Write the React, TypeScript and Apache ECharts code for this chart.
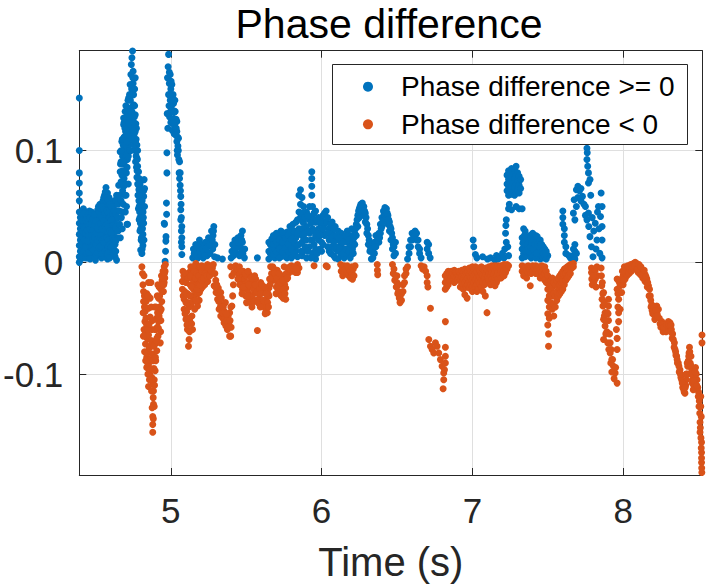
import React, { useEffect, useRef } from "react";
import * as echarts from "echarts";

type Pt = [number, number];

const xTicks = [5, 6, 7, 8];
const yTicks = [-0.1, 0, 0.1];
const xLimits = [4.393, 8.525];
const yLimits = [-0.1902, 0.1893];
const titleText = "Phase difference";
const xLabelText = "Time (s)";
const seriesNames = ["Phase difference >= 0", "Phase difference < 0"];

// ---------- Phase difference >= 0 ----------
const blueBand: Pt[] = [
  [4.393,0.147],[4.393,0.100],[4.393,0.080],[4.393,0.071],[4.393,0.062],[4.393,0.055],[4.393,0.045],[4.393,0.035],[4.393,0.025],[4.393,0.015],[4.393,0.005],[4.393,0.000],
  [4.400,0.040],[4.400,0.030],[4.400,0.020],[4.400,0.010],[4.400,0.003],
  [4.410,0.045],[4.410,0.032],[4.410,0.022],[4.410,0.012],
  [4.420,0.048],[4.420,0.036],[4.420,0.026],[4.420,0.015],[4.420,0.006],
  [4.430,0.042],[4.430,0.030],[4.430,0.020],[4.430,0.010],
  [4.440,0.045],[4.440,0.035],[4.440,0.025],[4.440,0.017],
  [4.450,0.040],[4.450,0.030],[4.450,0.022],[4.450,0.013],[4.450,0.004],
  [4.460,0.046],[4.460,0.034],[4.460,0.026],[4.460,0.018],
  [4.470,0.038],[4.470,0.028],[4.470,0.020],[4.470,0.010],
  [4.480,0.042],[4.480,0.032],[4.480,0.024],[4.480,0.016],[4.480,0.005],
  [4.490,0.036],[4.490,0.026],[4.490,0.018],[4.490,0.008],
  [4.500,0.040],[4.500,0.030],[4.500,0.020],[4.500,0.012],[4.500,0.002],
  [4.510,0.044],[4.510,0.034],[4.510,0.024],[4.510,0.014],
  [4.520,0.050],[4.520,0.038],[4.520,0.028],[4.520,0.018],[4.520,0.006],
  [4.530,0.052],[4.530,0.040],[4.530,0.030],[4.530,0.020],[4.530,0.010],
  [4.540,0.046],[4.540,0.036],[4.540,0.026],[4.540,0.016],[4.540,0.004],
  [4.550,0.055],[4.550,0.042],[4.550,0.032],[4.550,0.022],[4.550,0.012],
  [4.560,0.060],[4.560,0.048],[4.560,0.036],[4.560,0.026],[4.560,0.015],[4.560,0.005],
  [4.570,0.067],[4.570,0.052],[4.570,0.040],[4.570,0.028],[4.570,0.018],
  [4.580,0.062],[4.580,0.050],[4.580,0.038],[4.580,0.026],[4.580,0.014],[4.580,0.003],
  [4.590,0.058],[4.590,0.046],[4.590,0.034],[4.590,0.022],[4.590,0.010],
  [4.600,0.055],[4.600,0.044],[4.600,0.032],[4.600,0.020],[4.600,0.008],
  [4.610,0.050],[4.610,0.040],[4.610,0.030],[4.610,0.018],[4.610,0.006],
  [4.620,0.048],[4.620,0.036],[4.620,0.024],[4.620,0.012],
  [4.630,0.052],[4.630,0.040],[4.630,0.028],[4.630,0.016],[4.630,0.005],
  [4.640,0.060],[4.640,0.046],[4.640,0.034],[4.640,0.022],[4.640,0.002],
];

const blueBandFill: Pt[] = [
  [4.405,0.043],[4.405,0.027],[4.405,0.016],[4.405,0.006],[4.415,0.038],[4.415,0.028],[4.415,0.018],[4.415,0.004],
  [4.425,0.044],[4.425,0.031],[4.425,0.020],[4.425,0.010],[4.435,0.038],[4.435,0.026],[4.435,0.014],[4.435,0.004],
  [4.445,0.040],[4.445,0.029],[4.445,0.019],[4.445,0.008],[4.455,0.043],[4.455,0.033],[4.455,0.024],[4.455,0.009],
  [4.465,0.040],[4.465,0.030],[4.465,0.014],[4.465,0.003],[4.475,0.045],[4.475,0.034],[4.475,0.024],[4.475,0.013],
  [4.485,0.039],[4.485,0.029],[4.485,0.020],[4.485,0.011],[4.495,0.043],[4.495,0.033],[4.495,0.022],[4.495,0.004],
  [4.505,0.037],[4.505,0.026],[4.505,0.016],[4.505,0.007],[4.515,0.047],[4.515,0.030],[4.515,0.020],[4.515,0.009],
  [4.525,0.045],[4.525,0.034],[4.525,0.023],[4.525,0.013],[4.535,0.048],[4.535,0.035],[4.535,0.024],[4.535,0.014],
  [4.545,0.050],[4.545,0.040],[4.545,0.030],[4.545,0.020],[4.545,0.008],[4.555,0.058],[4.555,0.047],[4.555,0.037],
  [4.555,0.018],[4.565,0.063],[4.565,0.044],[4.565,0.032],[4.565,0.022],[4.565,0.010],[4.575,0.058],[4.575,0.046],
  [4.575,0.034],[4.575,0.022],[4.575,0.008],[4.585,0.056],[4.585,0.044],[4.585,0.032],[4.585,0.020],[4.585,0.008],
  [4.595,0.052],[4.595,0.040],[4.595,0.028],[4.595,0.016],[4.595,0.004],[4.605,0.050],[4.605,0.038],[4.605,0.026],
  [4.605,0.014],[4.615,0.044],[4.615,0.033],[4.615,0.021],[4.615,0.009],[4.625,0.046],[4.625,0.032],[4.625,0.020],
  [4.625,0.008],[4.635,0.056],[4.635,0.044],[4.635,0.031],[4.635,0.019],[4.635,0.010],
];

const bluePeak1: Pt[] = [
  [4.650,0.052],[4.650,0.040],[4.650,0.028],[4.654,0.069],[4.660,0.060],[4.660,0.046],[4.660,0.034],[4.664,0.081],[4.664,0.099],
  [4.665,0.022],[4.670,0.090],[4.670,0.072],[4.670,0.055],[4.672,0.040],[4.675,0.108],[4.678,0.030],[4.680,0.095],[4.680,0.082],
  [4.680,0.064],[4.680,0.045],[4.685,0.052],[4.687,0.123],[4.687,0.129],[4.690,0.112],[4.690,0.100],[4.690,0.088],[4.690,0.075],
  [4.692,0.060],[4.697,0.135],[4.698,0.045],[4.700,0.117],[4.700,0.106],[4.700,0.094],[4.700,0.070],[4.705,0.126],[4.705,0.080],
  [4.708,0.113],[4.709,0.034],[4.710,0.130],[4.710,0.100],[4.710,0.085],[4.712,0.092],[4.713,0.034],[4.715,0.120],[4.715,0.108],
  [4.718,0.070],[4.720,0.105],[4.720,0.126],[4.720,0.147],[4.720,0.115],[4.725,0.138],[4.730,0.159],[4.730,0.130],[4.730,0.118],
  [4.735,0.168],[4.738,0.177],[4.742,0.183],[4.746,0.189],[4.745,0.150],[4.750,0.171],[4.750,0.160],[4.753,0.150],[4.753,0.141],
  [4.758,0.130],[4.764,0.165],[4.764,0.132],[4.764,0.117],[4.768,0.124],[4.770,0.110],[4.775,0.105],[4.775,0.093],[4.775,0.076],
  [4.780,0.100],[4.780,0.086],[4.780,0.070],[4.785,0.060],[4.785,0.048],[4.786,0.081],[4.786,0.069],[4.790,0.075],[4.790,0.050],
  [4.790,0.038],[4.795,0.040],[4.795,0.028],[4.797,0.063],[4.797,0.052],[4.800,0.058],[4.800,0.045],[4.800,0.030],[4.800,0.011],
  [4.805,0.048],[4.805,0.022],[4.808,0.043],[4.808,0.031],[4.808,0.019],[4.808,0.008],[4.810,0.012],[4.812,0.038],[4.815,0.025],
  [4.815,0.015],[4.818,0.050],[4.820,0.059],[4.820,0.064],[4.823,0.074],
  [4.695,0.120],[4.700,0.128],[4.705,0.098],[4.710,0.118],[4.715,0.133],[4.718,0.095],[4.722,0.137],[4.725,0.112],
  [4.728,0.100],[4.732,0.145],[4.735,0.125],[4.738,0.110],[4.740,0.155],[4.742,0.135],[4.745,0.120],[4.748,0.165],
  [4.750,0.140],[4.755,0.125],[4.758,0.115],[4.760,0.140],[4.762,0.100],[4.766,0.090],[4.770,0.095],[4.772,0.120],
  [4.776,0.082],[4.782,0.060],[4.788,0.055],[4.793,0.045],[4.798,0.035],[4.803,0.020],[4.806,0.060],[4.812,0.030],
  [4.816,0.045],[4.820,0.035],[4.822,0.020],[4.666,0.088],[4.676,0.078],[4.684,0.105],[4.688,0.068],[4.694,0.082],
  [4.703,0.060],[4.706,0.050],
  [4.672,0.100],[4.678,0.110],[4.684,0.090],[4.690,0.125],[4.696,0.105],[4.702,0.140],[4.706,0.115],[4.712,0.108],
  [4.716,0.145],[4.724,0.125],[4.726,0.150],[4.734,0.135],[4.736,0.100],[4.744,0.110],[4.748,0.130],[4.752,0.118],
  [4.756,0.105],[4.760,0.155],[4.766,0.108],[4.772,0.085],[4.778,0.092],[4.784,0.075],[4.788,0.065],[4.792,0.060],
  [4.796,0.070],[4.802,0.052],[4.810,0.055],[4.814,0.065],[4.818,0.040],[4.826,0.066],[4.826,0.050],
];

const bluePeak2: Pt[] = [
  [4.956,0.035],[4.958,0.034],[4.962,0.001],[4.965,0.010],[4.967,0.019],[4.968,0.023],[4.971,0.053],[4.972,0.043],[4.974,0.080],
  [4.974,0.098],[4.976,0.133],[4.978,0.165],[4.980,0.120],[4.982,0.175],[4.985,0.186],[4.985,0.150],[4.988,0.140],[4.990,0.160],
  [4.992,0.130],[4.996,0.168],[4.996,0.145],[5.000,0.155],[5.000,0.125],[5.003,0.138],[5.007,0.159],[5.007,0.148],[5.010,0.118],
  [5.012,0.135],[5.015,0.150],[5.018,0.142],[5.018,0.128],[5.022,0.115],[5.025,0.135],[5.029,0.135],[5.030,0.120],[5.035,0.128],
  [5.040,0.126],[5.040,0.117],[5.040,0.108],[5.045,0.112],[5.044,0.096],[5.051,0.111],[5.050,0.100],[5.055,0.080],[5.058,0.090],
  [5.062,0.080],[5.062,0.069],[5.066,0.059],[5.066,0.047],[5.070,0.040],[5.073,0.032],[5.073,0.022],[5.073,0.014],[5.073,0.007],
  [4.990,0.170],[4.993,0.150],[4.998,0.135],[5.002,0.162],[5.005,0.128],[5.010,0.145],[5.014,0.125],[5.020,0.134],
  [5.024,0.122],[5.027,0.145],[5.032,0.114],[5.036,0.120],[5.042,0.100],[5.047,0.104],[5.053,0.092],[5.058,0.075],
  [5.064,0.064],[5.068,0.052],[5.070,0.028],[5.070,0.018],[5.066,0.038],
];

const blueLow: Pt[] = [
  [5.145,0.004],[5.150,0.012],[5.160,0.006],[5.165,0.016],[5.170,0.010],[5.180,0.004],[5.185,0.012],[5.190,0.020],[5.200,0.006],
  [5.205,0.016],[5.215,0.004],[5.220,0.010],[5.230,0.018],[5.240,0.006],[5.245,0.014],[5.250,0.022],[5.260,0.008],[5.265,0.018],
  [5.270,0.028],[5.278,0.012],[5.280,0.024],[5.285,0.032],[5.290,0.005],[5.292,0.016],[5.310,0.004],[5.342,0.003],
  [5.400,0.004],[5.405,0.010],[5.415,0.006],[5.420,0.014],[5.425,0.020],[5.435,0.008],[5.440,0.016],[5.445,0.022],[5.455,0.006],
  [5.460,0.014],[5.465,0.024],[5.475,0.028],[5.475,0.018],[5.478,0.008],[5.488,0.004],[5.490,0.012],[5.574,0.004],
  [5.155,0.008],[5.175,0.014],[5.195,0.010],[5.210,0.012],[5.225,0.006],[5.235,0.012],[5.255,0.016],[5.268,0.022],
  [5.275,0.020],[5.283,0.028],[5.410,0.016],[5.430,0.012],[5.450,0.018],[5.470,0.020],[5.470,0.010],
];

const blueMid: Pt[] = [
  [5.650,0.003],[5.650,0.010],[5.650,0.018],[5.670,0.005],[5.670,0.013],[5.670,0.021],[5.690,0.004],[5.690,0.012],[5.690,0.020],
  [5.710,0.006],[5.710,0.015],[5.710,0.024],[5.730,0.005],[5.730,0.013],[5.730,0.022],[5.730,0.028],[5.750,0.007],[5.750,0.016],
  [5.750,0.025],[5.770,0.004],[5.770,0.012],[5.770,0.020],[5.770,0.027],[5.790,0.008],[5.790,0.018],[5.790,0.026],[5.790,0.032],
  [5.810,0.006],[5.810,0.014],[5.810,0.024],[5.810,0.034],[5.830,0.010],[5.830,0.022],[5.830,0.036],[5.850,0.016],[5.850,0.030],
  [5.850,0.045],[5.850,0.060],[5.860,0.065],[5.860,0.052],[5.860,0.040],[5.860,0.025],[5.870,0.058],[5.870,0.044],[5.870,0.030],
  [5.870,0.018],[5.870,0.006],[5.880,0.050],[5.880,0.036],[5.880,0.022],[5.880,0.010],[5.900,0.045],[5.900,0.032],[5.900,0.020],
  [5.900,0.004],[5.920,0.050],[5.920,0.038],[5.920,0.026],[5.920,0.014],[5.935,0.081],[5.935,0.075],[5.935,0.068],[5.935,0.060],
  [5.940,0.050],[5.940,0.040],[5.940,0.030],[5.940,0.020],[5.940,0.008],[5.960,0.046],[5.960,0.036],[5.960,0.024],[5.960,0.012],
  [5.960,0.003],[5.980,0.040],[5.980,0.030],[5.980,0.020],[6.000,0.038],[6.000,0.028],[6.000,0.018],[6.000,0.010],[6.020,0.044],
  [6.020,0.034],[6.020,0.024],[6.030,0.046],[6.030,0.036],[6.050,0.030],[6.050,0.020],[6.050,0.010],[6.070,0.036],[6.070,0.026],
  [6.070,0.014],[6.090,0.032],[6.090,0.022],[6.090,0.012],[6.090,0.004],[6.110,0.028],[6.110,0.020],[6.110,0.010],[6.110,0.003],
  [6.130,0.026],[6.130,0.016],[6.130,0.006],[6.150,0.022],[6.150,0.012],[6.150,0.004],[6.170,0.028],[6.170,0.018],[6.170,0.008],
  [6.190,0.024],[6.190,0.014],[6.190,0.004],[6.200,0.030],[6.200,0.020],[6.200,0.010],
];

const blueMidFill: Pt[] = [
  [5.660,0.008],[5.660,0.016],[5.680,0.007],[5.680,0.016],[5.680,0.024],[5.700,0.009],[5.700,0.018],[5.700,0.026],
  [5.720,0.004],[5.720,0.012],[5.720,0.020],[5.740,0.009],[5.740,0.018],[5.740,0.027],[5.760,0.005],[5.760,0.013],
  [5.760,0.022],[5.780,0.009],[5.780,0.016],[5.780,0.024],[5.800,0.004],[5.800,0.012],[5.800,0.021],[5.800,0.030],
  [5.820,0.008],[5.820,0.018],[5.820,0.028],[5.840,0.005],[5.840,0.015],[5.840,0.026],[5.840,0.038],
  [5.865,0.010],[5.875,0.036],[5.890,0.040],[5.890,0.026],[5.890,0.014],[5.910,0.042],[5.910,0.028],[5.910,0.010],
  [5.930,0.035],[5.930,0.020],[5.930,0.004],[5.950,0.044],[5.950,0.028],[5.950,0.016],[5.970,0.038],[5.970,0.026],
  [5.970,0.008],[5.990,0.035],[5.990,0.024],[5.990,0.012],[6.010,0.042],[6.010,0.030],[6.010,0.016],[6.040,0.040],
  [6.040,0.026],[6.040,0.014],[6.060,0.034],[6.060,0.022],[6.060,0.008],[6.080,0.030],[6.080,0.018],[6.080,0.006],
  [6.100,0.024],[6.100,0.014],[6.120,0.022],[6.120,0.012],[6.140,0.018],[6.140,0.008],[6.160,0.024],[6.160,0.012],
  [6.180,0.020],[6.180,0.010],
];

const blueWaves: Pt[] = [
  [6.210,0.018],[6.210,0.008],[6.220,0.026],[6.220,0.016],[6.230,0.034],[6.230,0.024],[6.240,0.042],[6.240,0.032],[6.250,0.048],
  [6.250,0.040],[6.260,0.052],[6.260,0.045],[6.270,0.053],[6.270,0.047],[6.280,0.050],[6.280,0.042],[6.290,0.044],[6.290,0.036],
  [6.300,0.034],[6.300,0.026],[6.310,0.024],[6.310,0.016],[6.320,0.016],[6.320,0.010],[6.330,0.010],[6.330,0.003],[6.340,0.012],
  [6.340,0.004],[6.350,0.018],[6.350,0.008],[6.360,0.024],[6.360,0.014],[6.370,0.020],[6.380,0.026],[6.380,0.018],[6.390,0.034],
  [6.390,0.026],[6.400,0.040],[6.400,0.032],[6.410,0.046],[6.410,0.038],[6.420,0.049],[6.420,0.042],[6.430,0.048],[6.430,0.040],
  [6.440,0.042],[6.440,0.034],[6.450,0.036],[6.450,0.028],[6.460,0.030],[6.460,0.020],[6.470,0.022],[6.470,0.012],[6.480,0.014],
  [6.480,0.006],[6.490,0.018],[6.490,0.008],
  [6.205,0.012],[6.215,0.022],[6.225,0.030],[6.235,0.038],[6.245,0.046],[6.255,0.050],[6.265,0.050],[6.275,0.050],
  [6.285,0.046],[6.295,0.040],[6.305,0.030],[6.315,0.020],[6.325,0.012],[6.345,0.008],[6.355,0.014],[6.385,0.022],
  [6.395,0.030],[6.405,0.036],[6.415,0.044],[6.425,0.046],[6.435,0.044],[6.445,0.038],[6.455,0.032],[6.465,0.026],
  [6.475,0.016],
  [6.570,0.003],[6.580,0.008],[6.580,0.014],[6.590,0.014],[6.590,0.020],[6.600,0.020],[6.600,0.026],[6.610,0.026],[6.610,0.022],
  [6.620,0.028],[6.620,0.024],[6.630,0.026],[6.630,0.020],[6.640,0.020],[6.640,0.014],[6.650,0.012],[6.650,0.008],[6.660,0.004],
  [6.700,0.018],[6.700,0.012],[6.710,0.016],[6.710,0.008],[6.720,0.004],
];

const blueLate: Pt[] = [
  [7.005,0.020],[7.009,0.014],[7.020,0.007],[7.030,0.004],[7.068,0.005],[7.100,0.003],[7.120,0.004],[7.150,0.002],[7.160,0.006],
  [7.170,0.003],[7.180,0.004],[7.200,0.008],[7.210,0.004],[7.215,0.012],[7.220,0.026],[7.222,0.033],[7.225,0.038],[7.225,0.018],
  [7.235,0.014],[7.240,0.006],
];

const blueBlock: Pt[] = [
  [7.230,0.078],[7.230,0.070],[7.230,0.064],[7.240,0.082],[7.240,0.074],[7.240,0.066],[7.240,0.060],[7.250,0.080],[7.250,0.072],
  [7.250,0.064],[7.260,0.084],[7.260,0.076],[7.260,0.068],[7.260,0.061],[7.270,0.079],[7.270,0.071],[7.270,0.063],[7.280,0.083],
  [7.280,0.075],[7.280,0.067],[7.280,0.060],[7.290,0.086],[7.290,0.078],[7.290,0.070],[7.290,0.062],[7.300,0.080],[7.300,0.072],
  [7.300,0.064],[7.310,0.077],[7.310,0.069],[7.310,0.062],[7.320,0.074],[7.320,0.066],[7.240,0.048],[7.245,0.052],[7.260,0.047],
  [7.290,0.050],[7.310,0.048],[7.330,0.048],
];

const blueCluster: Pt[] = [
  [7.330,0.004],[7.330,0.012],[7.330,0.022],[7.340,0.030],[7.340,0.018],[7.340,0.008],[7.350,0.028],[7.350,0.016],[7.350,0.005],
  [7.360,0.020],[7.360,0.010],[7.370,0.014],[7.370,0.006],[7.380,0.018],[7.380,0.008],[7.380,0.024],[7.390,0.022],[7.390,0.012],
  [7.390,0.004],[7.400,0.026],[7.400,0.016],[7.400,0.006],[7.410,0.020],[7.410,0.010],[7.420,0.024],[7.420,0.014],[7.420,0.004],
  [7.430,0.023],[7.430,0.012],[7.440,0.018],[7.440,0.008],[7.450,0.020],[7.450,0.010],[7.450,0.003],[7.460,0.016],[7.460,0.006],
  [7.470,0.014],[7.470,0.004],[7.480,0.012],[7.480,0.005],[7.490,0.010],[7.490,0.003],[7.500,0.006],
  [7.335,0.017],[7.345,0.024],[7.355,0.010],[7.365,0.016],[7.375,0.010],[7.385,0.014],[7.395,0.018],[7.405,0.012],
  [7.415,0.016],[7.425,0.008],[7.435,0.016],[7.445,0.014],[7.455,0.016],[7.465,0.010],[7.475,0.008],[7.485,0.008],
];

const blueEnd: Pt[] = [
  [7.600,0.046],[7.600,0.040],[7.600,0.034],[7.610,0.030],[7.610,0.024],[7.610,0.018],[7.620,0.014],[7.620,0.008],[7.640,0.006],
  [7.650,0.004],[7.670,0.012],[7.670,0.006],[7.680,0.016],[7.680,0.010],[7.680,0.003],[7.690,0.008],
  [7.670,0.044],[7.675,0.056],[7.680,0.038],[7.690,0.065],[7.690,0.050],[7.700,0.068],[7.700,0.058],[7.710,0.064],[7.720,0.066],
  [7.720,0.055],[7.730,0.059],[7.740,0.052],[7.750,0.050],[7.750,0.042],[7.760,0.038],[7.760,0.092],[7.760,0.102],[7.762,0.098],
  [7.765,0.086],[7.770,0.080],[7.770,0.071],[7.770,0.044],[7.772,0.032],[7.780,0.074],[7.780,0.023],[7.785,0.060],[7.790,0.014],
  [7.795,0.040],[7.800,0.005],[7.805,0.028],[7.815,0.035],[7.820,0.012],[7.826,0.020],[7.830,0.045],[7.836,0.050],[7.840,0.030],
  [7.845,0.008],[7.850,0.041],[7.854,0.062],[7.860,0.050],[7.860,0.032],[7.860,0.020],[7.860,0.004],
];

// ---------- Phase difference < 0 ----------
const orangeDip1: Pt[] = [
  [4.808,-0.004],[4.815,-0.020],[4.819,-0.026],[4.819,-0.035],[4.822,-0.012],[4.825,-0.030],[4.830,-0.044],[4.828,-0.053],
  [4.830,-0.062],[4.832,-0.073],[4.825,-0.040],[4.822,-0.060],[4.835,-0.050],[4.840,-0.056],[4.840,-0.028],[4.840,-0.085],
  [4.840,-0.094],[4.843,-0.068],[4.846,-0.081],[4.846,-0.093],[4.852,-0.041],[4.852,-0.018],[4.852,-0.065],[4.852,-0.091],
  [4.852,-0.111],[4.856,-0.077],[4.860,-0.100],[4.863,-0.087],[4.863,-0.032],[4.863,-0.049],[4.868,-0.018],[4.870,-0.070],
  [4.874,-0.103],[4.874,-0.060],[4.878,-0.082],[4.880,-0.109],[4.880,-0.138],[4.880,-0.145],[4.880,-0.152],[4.883,-0.121],
  [4.885,-0.115],[4.885,-0.127],[4.888,-0.095],[4.890,-0.105],[4.890,-0.129],[4.893,-0.040],[4.896,-0.073],[4.896,-0.097],
  [4.900,-0.088],[4.900,-0.060],[4.905,-0.050],[4.907,-0.079],[4.907,-0.068],[4.910,-0.030],[4.912,-0.045],[4.918,-0.059],
  [4.918,-0.032],[4.918,-0.053],[4.922,-0.022],[4.925,-0.040],[4.929,-0.044],[4.930,-0.072],[4.932,-0.062],[4.934,-0.024],
  [4.934,-0.052],[4.940,-0.035],[4.942,-0.016],[4.945,-0.026],[4.951,-0.026],[4.951,-0.012],[4.956,-0.004],[4.956,-0.018],
  [4.960,-0.014],[4.962,-0.008],[4.964,-0.002],
  [4.812,-0.010],[4.816,-0.045],[4.818,-0.066],[4.826,-0.080],[4.833,-0.088],[4.836,-0.035],[4.845,-0.060],[4.848,-0.100],
  [4.850,-0.030],[4.857,-0.055],[4.858,-0.105],[4.862,-0.075],[4.866,-0.095],[4.870,-0.040],[4.872,-0.115],[4.876,-0.130],
  [4.878,-0.052],[4.882,-0.088],[4.884,-0.140],[4.887,-0.075],[4.892,-0.110],[4.895,-0.060],[4.898,-0.085],[4.902,-0.040],
  [4.903,-0.070],[4.910,-0.058],[4.914,-0.020],[4.915,-0.066],[4.922,-0.048],[4.926,-0.030],[4.936,-0.042],[4.938,-0.012],
  [4.948,-0.008],[4.953,-0.020],[4.958,-0.010],
];

const orangeDip2: Pt[] = [
  [5.077,-0.017],[5.077,-0.024],[5.080,-0.008],[5.084,-0.017],[5.088,-0.033],[5.088,-0.042],[5.092,-0.026],[5.100,-0.051],
  [5.100,-0.018],[5.100,-0.036],[5.105,-0.044],[5.110,-0.060],[5.110,-0.028],[5.117,-0.075],[5.121,-0.069],[5.121,-0.009],
  [5.121,-0.040],[5.125,-0.052],[5.128,-0.020],[5.132,-0.039],[5.132,-0.004],[5.135,-0.030],[5.140,-0.048],[5.140,-0.005],
  [5.144,-0.060],[5.144,-0.015],[5.150,-0.024],[5.150,-0.012],[5.154,-0.030],[5.154,-0.018],[5.160,-0.008],[5.160,-0.020],
  [5.165,-0.026],[5.166,-0.001],[5.170,-0.020],[5.170,-0.004],[5.177,-0.012],[5.177,-0.039],[5.180,-0.028],[5.180,-0.016],
  [5.185,-0.006],[5.188,-0.034],[5.190,-0.027],[5.190,-0.004],[5.192,-0.016],[5.199,-0.024],[5.199,-0.009],[5.205,-0.003],
  [5.210,-0.014],[5.210,-0.022],[5.215,-0.008],[5.220,-0.005],[5.225,-0.020],[5.230,-0.004],[5.232,-0.015],[5.235,-0.008],
  [5.243,-0.002],[5.245,-0.017],[5.250,-0.012],[5.254,-0.009],[5.260,-0.003],[5.265,-0.005],[5.272,-0.010],[5.276,-0.005],
  [5.282,-0.002],
  [5.082,-0.030],[5.086,-0.012],[5.094,-0.046],[5.096,-0.010],[5.103,-0.028],[5.107,-0.056],[5.113,-0.036],[5.115,-0.014],
  [5.118,-0.050],[5.124,-0.062],[5.126,-0.030],[5.130,-0.012],[5.137,-0.022],[5.138,-0.055],[5.146,-0.035],[5.148,-0.004],
  [5.156,-0.008],[5.158,-0.042],[5.163,-0.014],[5.168,-0.034],[5.172,-0.010],[5.175,-0.024],[5.183,-0.020],[5.186,-0.012],
  [5.195,-0.020],[5.196,-0.004],[5.203,-0.016],[5.207,-0.008],[5.213,-0.004],[5.218,-0.014],[5.228,-0.010],[5.238,-0.012],
  [5.248,-0.005],[5.258,-0.012],[5.268,-0.008],
];

const orangeDip3: Pt[] = [
  [5.287,-0.021],[5.292,-0.010],[5.298,-0.016],[5.300,-0.027],[5.310,-0.033],[5.315,-0.023],[5.320,-0.042],[5.325,-0.030],
  [5.331,-0.048],[5.331,-0.027],[5.340,-0.038],[5.345,-0.050],[5.353,-0.054],[5.355,-0.044],[5.362,-0.036],[5.365,-0.057],
  [5.375,-0.060],[5.380,-0.048],[5.386,-0.054],[5.390,-0.045],[5.390,-0.066],[5.397,-0.066],[5.400,-0.058],[5.405,-0.039],
  [5.410,-0.030],[5.397,-0.004],[5.405,-0.012],[5.415,-0.020],[5.419,-0.009],[5.425,-0.004],
  [5.295,-0.022],[5.305,-0.020],[5.318,-0.035],[5.328,-0.040],[5.335,-0.032],[5.342,-0.045],[5.348,-0.040],[5.358,-0.050],
  [5.368,-0.046],[5.372,-0.052],[5.383,-0.058],[5.393,-0.052],[5.398,-0.040],
];

const orangeMid: Pt[] = [
  [5.430,-0.003],[5.436,-0.008],[5.442,-0.006],[5.450,-0.012],[5.455,-0.004],[5.460,-0.010],[5.464,-0.018],[5.470,-0.014],
  [5.475,-0.024],[5.480,-0.008],[5.486,-0.015],[5.490,-0.020],[5.497,-0.030],[5.500,-0.012],[5.505,-0.024],[5.510,-0.018],
  [5.515,-0.028],[5.520,-0.011],[5.520,-0.033],[5.525,-0.022],[5.530,-0.022],[5.535,-0.030],[5.541,-0.030],[5.545,-0.016],
  [5.552,-0.021],[5.558,-0.026],[5.563,-0.015],[5.563,-0.027],[5.568,-0.034],[5.574,-0.061],[5.575,-0.022],[5.580,-0.028],
  [5.585,-0.033],[5.590,-0.020],[5.596,-0.018],[5.600,-0.036],[5.607,-0.039],[5.610,-0.026],[5.618,-0.027],[5.620,-0.040],
  [5.630,-0.044],[5.630,-0.033],[5.636,-0.038],[5.640,-0.045],[5.645,-0.028],[5.651,-0.030],[5.651,-0.023],[5.655,-0.015],
  [5.662,-0.004],[5.668,-0.010],[5.673,-0.011],[5.680,-0.016],[5.685,-0.006],[5.695,-0.015],[5.700,-0.022],[5.706,-0.007],
  [5.710,-0.018],[5.717,-0.020],[5.722,-0.028],[5.730,-0.012],[5.735,-0.024],[5.740,-0.027],[5.745,-0.032],[5.750,-0.012],
  [5.752,-0.004],[5.755,-0.020],[5.762,-0.033],[5.762,-0.023],[5.768,-0.015],[5.773,-0.005],[5.780,-0.010],[5.790,-0.004],
  [5.795,-0.004],[5.805,-0.008],[5.817,-0.007],[5.828,-0.009],[5.840,-0.009],[5.840,-0.002],[5.850,-0.005],
  [5.445,-0.015],[5.458,-0.020],[5.468,-0.008],[5.472,-0.028],[5.483,-0.022],[5.494,-0.010],[5.502,-0.036],[5.508,-0.030],
  [5.512,-0.008],[5.518,-0.020],[5.527,-0.036],[5.533,-0.014],[5.538,-0.040],[5.548,-0.024],[5.550,-0.035],[5.556,-0.012],
  [5.560,-0.020],[5.570,-0.026],[5.578,-0.036],[5.588,-0.024],[5.593,-0.040],[5.598,-0.028],[5.603,-0.020],[5.613,-0.034],
  [5.623,-0.022],[5.626,-0.046],[5.633,-0.028],[5.642,-0.036],[5.648,-0.040],[5.658,-0.020],
  [5.665,-0.014],[5.676,-0.004],[5.690,-0.010],[5.698,-0.028],[5.705,-0.014],[5.712,-0.026],[5.720,-0.010],[5.726,-0.018],
  [5.732,-0.030],[5.742,-0.016],[5.748,-0.024],[5.757,-0.028],[5.765,-0.010],[5.775,-0.014],[5.785,-0.006],[5.800,-0.003],
  [5.810,-0.005],[5.822,-0.004],[5.834,-0.006],
  [5.950,-0.003],[6.030,-0.003],[6.038,-0.004],[6.126,-0.002],[6.130,-0.008],[6.140,-0.005],[6.140,-0.012],[6.150,-0.003],
  [6.150,-0.009],[6.160,-0.006],[6.170,-0.003],[6.170,-0.010],[6.180,-0.005],[6.180,-0.012],[6.190,-0.008],[6.192,-0.014],
  [6.200,-0.004],[6.203,-0.010],[6.205,-0.015],[6.210,-0.006],[6.215,-0.012],[6.222,-0.003],[6.369,-0.002],[6.370,-0.007],
  [6.372,-0.011],
];

const orangeV: Pt[] = [
  [6.470,-0.002],[6.475,-0.010],[6.480,-0.006],[6.485,-0.016],[6.490,-0.012],[6.495,-0.022],[6.500,-0.018],[6.500,-0.012],
  [6.505,-0.028],[6.510,-0.026],[6.510,-0.020],[6.515,-0.032],[6.520,-0.036],[6.520,-0.030],[6.530,-0.034],[6.530,-0.028],
  [6.540,-0.026],[6.540,-0.020],[6.550,-0.018],[6.550,-0.012],[6.560,-0.010],[6.560,-0.006],[6.570,-0.004],
  [6.660,-0.003],[6.670,-0.006],[6.680,-0.004],[6.690,-0.008],[6.700,-0.012],[6.700,-0.018],[6.705,-0.022],[6.722,-0.041],
  [6.821,-0.053],
];

const orangeDrop: Pt[] = [
  [6.711,-0.069],[6.722,-0.075],[6.733,-0.078],[6.744,-0.081],[6.755,-0.072],[6.766,-0.075],[6.777,-0.081],[6.788,-0.087],
  [6.799,-0.093],[6.810,-0.099],[6.810,-0.105],[6.806,-0.113],[6.821,-0.076],[6.821,-0.084],[6.821,-0.090],[6.815,-0.096],
];

const orangeBand: Pt[] = [
  [6.820,-0.012],[6.820,-0.018],[6.820,-0.024],[6.830,-0.010],[6.830,-0.016],[6.830,-0.022],[6.840,-0.008],[6.840,-0.014],
  [6.840,-0.020],[6.850,-0.010],[6.850,-0.016],[6.860,-0.008],[6.860,-0.013],[6.870,-0.010],[6.870,-0.016],[6.880,-0.007],
  [6.880,-0.012],[6.880,-0.018],[6.890,-0.009],[6.890,-0.015],[6.900,-0.010],[6.900,-0.016],[6.910,-0.008],[6.910,-0.013],
  [6.920,-0.010],[6.920,-0.016],[6.920,-0.022],[6.930,-0.007],[6.930,-0.013],[6.930,-0.019],[6.940,-0.009],[6.940,-0.015],
  [6.940,-0.024],[6.950,-0.006],[6.950,-0.012],[6.950,-0.018],[6.950,-0.029],[6.960,-0.010],[6.960,-0.016],[6.960,-0.022],
  [6.965,-0.032],[6.970,-0.008],[6.970,-0.014],[6.970,-0.020],[6.980,-0.005],[6.980,-0.011],[6.980,-0.017],[6.980,-0.023],
  [6.990,-0.008],[6.990,-0.014],[6.990,-0.020],[7.000,-0.004],[7.000,-0.010],[7.000,-0.016],[7.000,-0.022],[7.000,-0.026],
  [7.010,-0.006],[7.010,-0.012],[7.010,-0.018],[7.020,-0.004],[7.020,-0.010],[7.020,-0.016],[7.020,-0.022],[7.030,-0.008],
  [7.030,-0.014],[7.030,-0.020],[7.030,-0.026],[7.040,-0.005],[7.040,-0.011],[7.040,-0.017],[7.040,-0.024],[7.050,-0.007],
  [7.050,-0.013],[7.050,-0.019],[7.060,-0.004],[7.060,-0.010],[7.060,-0.016],[7.060,-0.022],[7.070,-0.006],[7.070,-0.012],
  [7.070,-0.018],[7.070,-0.026],[7.080,-0.008],[7.080,-0.014],[7.080,-0.020],[7.086,-0.030],[7.090,-0.005],[7.090,-0.011],
  [7.090,-0.018],[7.097,-0.045],[7.100,-0.007],[7.100,-0.013],[7.110,-0.004],[7.110,-0.010],[7.110,-0.016],[7.120,-0.006],
  [7.120,-0.012],[7.120,-0.020],[7.130,-0.003],[7.130,-0.009],[7.130,-0.015],[7.140,-0.005],[7.140,-0.011],[7.140,-0.017],
  [7.150,-0.003],[7.150,-0.008],[7.150,-0.014],[7.150,-0.021],[7.160,-0.006],[7.160,-0.012],[7.160,-0.018],[7.170,-0.003],
  [7.170,-0.009],[7.170,-0.015],[7.180,-0.005],[7.180,-0.011],[7.190,-0.003],[7.190,-0.008],[7.190,-0.014],[7.200,-0.004],
  [7.200,-0.010],[7.210,-0.002],[7.210,-0.007],[7.210,-0.012],[7.220,-0.004],[7.220,-0.009],[7.230,-0.002],[7.230,-0.006],
  [7.240,-0.003],
];

const orangeLate: Pt[] = [
  [7.330,-0.003],[7.330,-0.008],[7.340,-0.006],[7.340,-0.012],[7.350,-0.004],[7.350,-0.010],[7.360,-0.007],[7.360,-0.014],
  [7.370,-0.003],[7.370,-0.009],[7.380,-0.006],[7.384,-0.021],[7.390,-0.004],[7.390,-0.010],[7.400,-0.003],[7.400,-0.008],
  [7.410,-0.005],[7.420,-0.003],[7.420,-0.010],[7.430,-0.006],[7.440,-0.004],[7.440,-0.010],[7.450,-0.006],[7.450,-0.014],
  [7.460,-0.003],[7.460,-0.009],[7.470,-0.006],[7.470,-0.012],[7.480,-0.004],[7.480,-0.010],[7.480,-0.016],[7.490,-0.008],
  [7.490,-0.018],[7.500,-0.012],[7.500,-0.024],[7.500,-0.034],[7.500,-0.046],[7.500,-0.056],[7.505,-0.064],[7.505,-0.075],
  [7.510,-0.020],[7.510,-0.030],[7.510,-0.040],[7.510,-0.050],[7.520,-0.016],[7.520,-0.026],[7.520,-0.036],[7.530,-0.014],
  [7.530,-0.022],[7.530,-0.030],[7.530,-0.042],[7.540,-0.018],[7.540,-0.028],[7.540,-0.038],[7.540,-0.048],[7.550,-0.020],
  [7.550,-0.030],[7.550,-0.040],[7.560,-0.016],[7.560,-0.026],[7.560,-0.034],[7.570,-0.014],[7.570,-0.022],[7.570,-0.030],
  [7.580,-0.012],[7.580,-0.020],[7.580,-0.028],[7.590,-0.010],[7.590,-0.018],[7.590,-0.026],[7.600,-0.008],[7.600,-0.016],
  [7.600,-0.024],[7.610,-0.006],[7.610,-0.012],[7.610,-0.020],[7.620,-0.005],[7.620,-0.010],[7.620,-0.016],[7.630,-0.004],
  [7.630,-0.008],[7.630,-0.014],[7.640,-0.003],[7.640,-0.007],[7.640,-0.012],[7.650,-0.002],[7.650,-0.006],[7.650,-0.010],
  [7.660,-0.002],[7.660,-0.005],[7.670,-0.001],[7.670,-0.004],
];

const orangeColumn: Pt[] = [
  [7.790,-0.005],[7.790,-0.009],[7.792,-0.015],[7.795,-0.020],[7.815,-0.007],[7.815,-0.015],[7.826,-0.004],[7.830,-0.012],
  [7.854,-0.005],[7.856,-0.012],[7.858,-0.021],[7.870,-0.027],[7.860,-0.033],[7.866,-0.039],[7.880,-0.045],[7.870,-0.051],
  [7.880,-0.057],[7.892,-0.062],[7.870,-0.069],[7.903,-0.033],[7.903,-0.039],[7.900,-0.046],[7.903,-0.052],[7.914,-0.072],
  [7.914,-0.081],[7.925,-0.087],[7.936,-0.093],[7.947,-0.099],[7.960,-0.108],[7.930,-0.087],[7.960,-0.078],[7.960,-0.068],
  [7.970,-0.053],[7.910,-0.064],[7.920,-0.078],
  [7.800,-0.012],[7.805,-0.018],[7.820,-0.022],[7.862,-0.018],[7.865,-0.028],[7.875,-0.036],[7.875,-0.048],[7.885,-0.052],
  [7.885,-0.064],[7.895,-0.045],[7.898,-0.072],[7.905,-0.078],[7.918,-0.090],[7.925,-0.098],[7.940,-0.104],[7.950,-0.094],
  [7.955,-0.060],[7.965,-0.040],[7.965,-0.028],[7.975,-0.018],
];

const orangeHump: Pt[] = [
  [7.960,-0.015],[7.960,-0.024],[7.970,-0.033],[7.980,-0.042],[7.980,-0.021],[7.990,-0.027],[7.990,-0.015],[8.000,-0.012],
  [8.013,-0.009],[8.020,-0.006],[8.035,-0.008],[8.046,-0.005],[8.057,-0.003],[8.068,-0.001],[8.080,0.000],[8.090,-0.001],
  [8.100,-0.004],[8.110,-0.006],[8.123,-0.008],[8.134,-0.009],[8.146,-0.011],[8.157,-0.015],[8.168,-0.021],[8.180,-0.030],
  [8.190,-0.038],[8.200,-0.042],[8.212,-0.045],[8.223,-0.039],[8.234,-0.042],[8.256,-0.053],[8.278,-0.057],[8.300,-0.053],
  [8.311,-0.054],[8.320,-0.060],[8.333,-0.069],[8.344,-0.078],[8.355,-0.084],[8.366,-0.090],[8.377,-0.096],[8.388,-0.105],
  [8.400,-0.111],[8.410,-0.117],[8.420,-0.105],[8.428,-0.093],[8.437,-0.081],[8.440,-0.076],[8.450,-0.084],[8.455,-0.096],
  [8.460,-0.105],[8.470,-0.111],[8.470,-0.099],[8.480,-0.094],[8.490,-0.105],[8.500,-0.116],[8.503,-0.129],[8.510,-0.143],
  [8.510,-0.152],[8.520,-0.161],[8.520,-0.170],[8.520,-0.179],[8.522,-0.188],[8.523,-0.065],[8.523,-0.072],[8.515,-0.120],
  [8.515,-0.129],[8.518,-0.138],
  [7.970,-0.045],[8.000,-0.020],[8.013,-0.015],[8.025,-0.012],[8.040,-0.010],[8.055,-0.008],[8.070,-0.006],[8.085,-0.005],
  [8.100,-0.009],[8.115,-0.011],[8.130,-0.014],[8.145,-0.017],[8.160,-0.022],[8.172,-0.030],[8.185,-0.040],[8.196,-0.046],
  [8.210,-0.051],[8.225,-0.046],[8.240,-0.050],[8.250,-0.058],[8.265,-0.062],[8.285,-0.062],[8.300,-0.060],[8.315,-0.062],
  [8.325,-0.068],[8.338,-0.076],[8.350,-0.083],[8.360,-0.090],[8.372,-0.098],[8.383,-0.103],[8.395,-0.112],[8.405,-0.116],
  [8.415,-0.110],[8.425,-0.100],[8.432,-0.088],[8.445,-0.090],[8.452,-0.100],[8.465,-0.114],[8.475,-0.104],[8.485,-0.100],
  [8.495,-0.112],[8.505,-0.124],
  [7.995,-0.008],[8.005,-0.016],[8.008,-0.004],[8.030,-0.003],[8.050,-0.002],[8.062,-0.004],[8.075,-0.003],[8.095,-0.006],
  [8.105,-0.002],[8.118,-0.004],[8.128,-0.011],[8.140,-0.007],[8.152,-0.013],[8.163,-0.018],[8.175,-0.024],[8.183,-0.034],
  [8.192,-0.043],[8.205,-0.040],[8.218,-0.043],[8.228,-0.048],[8.245,-0.055],[8.260,-0.056],[8.270,-0.058],[8.290,-0.056],
  [8.305,-0.056],[8.318,-0.056],[8.328,-0.064],[8.340,-0.072],[8.348,-0.080],[8.358,-0.087],[8.370,-0.093],[8.380,-0.100],
  [8.392,-0.108],[8.402,-0.114],[8.412,-0.112],[8.418,-0.100],[8.425,-0.090],[8.435,-0.084],[8.442,-0.080],[8.448,-0.092],
  [8.458,-0.108],[8.468,-0.106],[8.478,-0.098],[8.488,-0.110],[8.498,-0.120],[8.508,-0.135],[8.512,-0.148],[8.516,-0.157],
  [8.518,-0.166],[8.520,-0.175],[8.521,-0.184],
];

const blueData: Pt[] = [
  ...blueBand, ...blueBandFill, ...bluePeak1, ...bluePeak2, ...blueLow, ...blueMid, ...blueMidFill,
  ...blueWaves, ...blueLate, ...blueBlock, ...blueCluster, ...blueEnd,
];
const orangeData: Pt[] = [
  ...orangeDip1, ...orangeDip2, ...orangeDip3, ...orangeMid, ...orangeV, ...orangeDrop,
  ...orangeBand, ...orangeLate, ...orangeColumn, ...orangeHump,
];

const FONT = '"Liberation Sans", Arial, Helvetica, sans-serif';
const AXIS_COLOR = "#262626";
const GRID_COLOR = "#dfdfdf";
const BLUE = "#0072BD";
const ORANGE = "#D95319";

export default function App() {
  const ref = useRef<HTMLDivElement>(null);

  useEffect(() => {
    if (!ref.current) return;
    const chart = echarts.init(ref.current, null, { renderer: "svg" });

    const axisLine = { show: true, onZero: false, lineStyle: { color: AXIS_COLOR, width: 1 } };

    chart.setOption({
      animation: false,
      backgroundColor: "#ffffff",
      textStyle: { fontFamily: FONT },
      grid: { left: 78.3, top: 50.7, width: 624, height: 425, containLabel: false },
      xAxis: [
        {
          type: "value",
          position: "bottom",
          min: xLimits[0],
          max: xLimits[1],
          axisLine,
          axisTick: { show: true, inside: true, length: 7, customValues: xTicks, lineStyle: { color: AXIS_COLOR } },
          axisLabel: { show: true, customValues: xTicks, fontSize: 35, color: AXIS_COLOR, margin: 18, fontFamily: FONT },
          splitLine: { show: true, lineStyle: { color: GRID_COLOR, width: 1 } },
          name: xLabelText,
          nameLocation: "middle",
          nameGap: 67,
          nameTextStyle: { fontSize: 40, color: AXIS_COLOR, fontFamily: FONT },
        },
        {
          type: "value",
          position: "top",
          min: xLimits[0],
          max: xLimits[1],
          axisLine,
          axisTick: { show: true, inside: true, length: 7, customValues: xTicks, lineStyle: { color: AXIS_COLOR } },
          axisLabel: { show: false },
          splitLine: { show: false },
        },
      ],
      yAxis: [
        {
          type: "value",
          position: "left",
          min: yLimits[0],
          max: yLimits[1],
          axisLine,
          axisTick: { show: true, inside: true, length: 7, customValues: yTicks, lineStyle: { color: AXIS_COLOR } },
          axisLabel: { show: true, customValues: yTicks, fontSize: 35, color: AXIS_COLOR, margin: 16, fontFamily: FONT },
          splitLine: { show: true, lineStyle: { color: GRID_COLOR, width: 1 } },
        },
        {
          type: "value",
          position: "right",
          min: yLimits[0],
          max: yLimits[1],
          axisLine,
          axisTick: { show: true, inside: true, length: 7, customValues: yTicks, lineStyle: { color: AXIS_COLOR } },
          axisLabel: { show: false },
          splitLine: { show: false },
        },
      ],
      series: [
        {
          type: "scatter",
          name: seriesNames[0],
          data: blueData,
          xAxisIndex: 0,
          yAxisIndex: 0,
          symbol: "circle",
          symbolSize: 7,
          clip: false,
          silent: true,
          itemStyle: { color: BLUE, opacity: 1 },
        },
        {
          type: "scatter",
          name: seriesNames[1],
          data: orangeData,
          xAxisIndex: 0,
          yAxisIndex: 0,
          symbol: "circle",
          symbolSize: 7,
          clip: false,
          silent: true,
          itemStyle: { color: ORANGE, opacity: 1 },
        },
      ],
      graphic: [
        {
          type: "text",
          x: 389,
          y: 3,
          z: 100,
          style: {
            text: titleText,
            fontSize: 41,
            fontFamily: FONT,
            fill: "#000000",
            align: "center",
            textAlign: "center",
            verticalAlign: "top",
            textVerticalAlign: "top",
          },
        },
        {
          type: "rect",
          z: 100,
          shape: { x: 332.5, y: 64.5, width: 355, height: 80 },
          style: { fill: "#ffffff", stroke: AXIS_COLOR, lineWidth: 1 },
        },
        {
          type: "circle",
          z: 101,
          shape: { cx: 368, cy: 86.7, r: 5 },
          style: { fill: BLUE },
        },
        {
          type: "circle",
          z: 101,
          shape: { cx: 368, cy: 124.3, r: 5 },
          style: { fill: ORANGE },
        },
        {
          type: "text",
          x: 401,
          y: 86.7,
          z: 101,
          style: {
            text: seriesNames[0],
            fontSize: 28,
            fontFamily: FONT,
            fill: "#000000",
            verticalAlign: "middle",
            textVerticalAlign: "middle",
          },
        },
        {
          type: "text",
          x: 401,
          y: 124.3,
          z: 101,
          style: {
            text: seriesNames[1],
            fontSize: 28,
            fontFamily: FONT,
            fill: "#000000",
            verticalAlign: "middle",
            textVerticalAlign: "middle",
          },
        },
      ],
    });

    return () => chart.dispose();
  }, []);

  return (
    <div
      ref={ref}
      style={{ position: "fixed", left: 0, top: 0, width: 711, height: 587, background: "#fff" }}
    />
  );
}
